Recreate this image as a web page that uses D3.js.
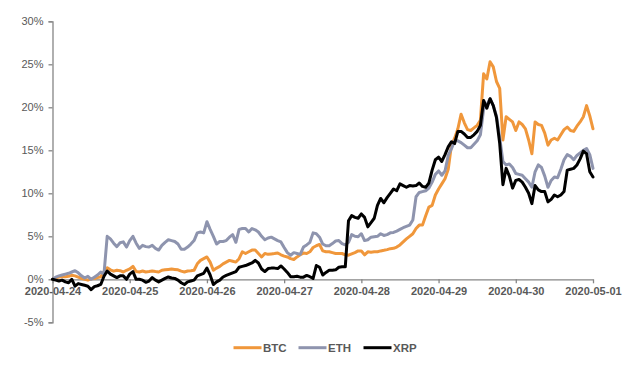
<!DOCTYPE html>
<html>
<head>
<meta charset="utf-8">
<script src="https://cdn.jsdelivr.net/npm/d3@7"></script>
<style>
  body { margin: 0; background: #fff; }
  svg { display: block; font-family: "Liberation Sans", Arial, sans-serif; }
</style>
</head>
<body>
<div id="chart-area"></div>
<script>
// hourly returns since 2020-04-24 00:00, in percent
const startDate = new Date(2020, 3, 24);
const tickDates = ["2020-04-24", "2020-04-25", "2020-04-26", "2020-04-27",
  "2020-04-28", "2020-04-29", "2020-04-30", "2020-05-01"];
const yTicks = [-5, 0, 5, 10, 15, 20, 25, 30];
const seriesNames = ["BTC", "ETH", "XRP"];

const btc = [0, 0.15, 0.27, 0.3, 0.3, 0.35, 0.46, 0.4, 0.25, 0.1, 0, -0.1, 0.05, 0.1, 0.2, 0.3,
  0.9, 1.35, 1.1, 0.95, 1.05, 1, 0.85, 1.05, 1.2, 1.5, 0.9, 0.85, 0.97, 0.85, 0.9, 0.97,
  0.9, 0.85, 1.05, 1.1, 1.15, 1.2, 1.15, 1.1, 0.95, 0.85, 0.97, 1, 1.05, 1.8, 2.2, 2.4,
  2.6, 2, 1.05, 1.3, 1.5, 1.8, 2, 2.2, 2.1, 2, 2.4, 3.2, 3, 3.2, 3.4, 3.4, 3, 2.6,
  3, 2.9, 2.95, 3, 3.06, 2.85, 2.7, 2.6, 2.4, 2.3, 2.6, 2.85, 3.05, 3, 3.2, 3.7,
  3.9, 4.05, 3.3, 3.2, 3.2, 3.1, 3, 3, 3, 2.85, 2.8, 2.95, 3.1, 3.3, 3.3, 2.85,
  3.2, 3.15, 3.2, 3.2, 3.3, 3.37, 3.45, 3.56, 3.6, 3.75, 4, 4.35, 4.7, 5, 5.3, 5.9,
  6.3, 6.3, 7.4, 8.4, 8.6, 9.8, 10.5, 11.1, 11.7, 12.8, 15.6, 16.4, 17.5, 19.2, 18.2, 17.4,
  17.3, 17.6, 17.9, 18.5, 23.9, 23.3, 25.3, 24.7, 23, 22.2, 16.2, 18.9, 18.6, 18.3, 17.3, 18.3,
  18, 17.5, 16.2, 14.6, 18.3, 18, 17.9, 17, 15.6, 16.2, 16.4, 16.2, 16.8, 17.4, 17.7, 17.3,
  17.2, 17.8, 18.3, 18.9, 20.2, 19, 17.5];

const eth = [0, 0.25, 0.4, 0.5, 0.6, 0.7, 0.85, 1, 0.75, 0.4, 0.15, 0.35, 0, 0.25, 0.5, 0.85,
  0.6, 5, 4.7, 4.2, 3.8, 4.25, 4.35, 3.75, 4.5, 5, 4.2, 3.6, 3.95, 3.8, 3.75, 3.95,
  3.6, 3.4, 3.95, 4.3, 4.6, 4.5, 4.4, 4.1, 3.5, 3.5, 3.75, 4.1, 4.5, 5.4, 5.5, 5.4,
  6.7, 5.8, 5, 4.1, 4.4, 4.4, 4.5, 4.9, 5.2, 4.3, 5.8, 5.9, 5.9, 5.5, 5.9, 5.75, 5.5, 5,
  4.6, 4.8, 4.9, 4.7, 4.5, 4.35, 3.7, 3.1, 2.8, 3.1, 3, 2.9, 3.75, 4, 4.3, 5.4,
  5.3, 4.9, 4.1, 3.9, 3.9, 4.15, 4.45, 4.5, 4.15, 4, 4.3, 5.2, 5, 4.95, 5.3, 4.5,
  4.6, 4.9, 4.95, 5, 5.3, 5.1, 5.2, 5.4, 5.45, 5.6, 5.8, 6, 6.15, 6.3, 6.9, 9.6,
  10.1, 10.2, 10.3, 10.6, 11.3, 12.2, 12.6, 12.1, 12.6, 14.4, 15.2, 16.1, 16.1, 15.9, 15.6, 15.3,
  15.3, 15.7, 16.1, 16.8, 19.8, 20.3, 21, 20.2, 19, 16.5, 13.7, 13.3, 13.4, 13, 12.3, 12.2,
  12.1, 11.7, 11.3, 10.7, 12.5, 13.3, 13, 12, 10.7, 11.5, 11.9, 11.8, 12.8, 13.9, 14.5, 14.3,
  13.9, 14.4, 14.7, 15, 15.2, 14.5, 12.9];

const xrp = [0, -0.1, -0.2, -0.1, -0.3, -0.4, 0, -0.8, -0.5, -0.6, -0.7, -0.8, -1.2, -0.85, -0.75, -0.6,
  0.35, 0.97, 0.6, 0.4, 0.2, 0.4, 0.4, 0, 0.6, 0.9, 0, 0, -0.1, -0.35, -0.2, 0.2,
  -0.1, -0.3, -0.1, 0.1, 0.27, 0.15, 0.1, -0.1, -0.4, -0.6, -0.3, -0.2, -0.1, 0.4, 0.55, 0.7,
  1.3, 0.5, -0.6, -0.3, -0.1, 0.27, 0.45, 0.6, 0.75, 0.9, 1.4, 1.5, 1.6, 1.75, 1.9, 2.2, 1.9, 1.2,
  0.9, 1.25, 1.3, 1.3, 1.25, 1.55, 1.2, 0.8, 0.3, 0.3, 0.35, 0.25, 0.25, 0.45, 0.3, 0.1,
  1.6, 1.4, 0.5, 0.8, 1.05, 1.05, 1.1, 1.4, 1.45, 1.45, 6.8, 7.4, 7.2, 7.1, 7.6, 7.2,
  6.1, 6.6, 7.1, 8.6, 9.4, 8.9, 9.5, 10, 10.5, 10.3, 11.1, 10.9, 10.7, 10.9, 10.85, 10.9,
  11.2, 10.8, 10.7, 11.2, 12.7, 13.9, 14.2, 13.7, 14.5, 15.4, 16, 15.8, 17.2, 17.2, 16.9, 16.5,
  16.5, 16.8, 17.2, 17.9, 20.8, 19.9, 21, 20.2, 18.8, 15.8, 11, 12.9, 12, 10.6, 11.5, 11.6,
  11.3, 10.7, 10, 8.8, 10.9, 10.4, 10.2, 10.2, 9, 9.3, 9.8, 9.6, 9.8, 10.2, 12.7, 12.8,
  12.9, 13.3, 14, 14.9, 14.6, 12.5, 11.9];

const colors = {BTC: "#f0973b", ETH: "#8e94ae", XRP: "#000000"};
const series = {BTC: btc, ETH: eth, XRP: xrp};

const W = 634, H = 374;
const svg = d3.select("#chart-area")
  .append("svg")
  .attr("width", W)
  .attr("height", H);

const parseDay = d3.timeParse("%Y-%m-%d");

// x scale
const x = d3.scaleTime()
  .domain([parseDay(tickDates[0]), parseDay(tickDates[tickDates.length - 1])])
  .range([52.5, 593]);

// y scale
const y = d3.scaleLinear()
  .domain([-5, 30])
  .range([322.3, 21.3]);

const textColor = "#595959";
const axisColor = "#868686";

// y axis
const yAxis = d3.axisLeft(y)
  .tickValues(yTicks)
  .tickSize(4)
  .tickPadding(5)
  .tickFormat(d => `${d}%`);
const gy = svg.append("g")
  .attr("transform", `translate(${x.range()[0]},0)`)
  .call(yAxis);
gy.select(".domain").attr("stroke", axisColor).attr("stroke-width", 1.3);
gy.selectAll(".tick line").attr("stroke", axisColor).attr("stroke-width", 1.3);
gy.selectAll(".tick text")
  .attr("fill", textColor)
  .attr("font-size", "11px");

// x axis at 0%
const xAxis = d3.axisBottom(x)
  .tickValues(tickDates.map(parseDay))
  .tickSize(4)
  .tickSizeOuter(0)
  .tickPadding(4)
  .tickFormat(d3.timeFormat("%Y-%m-%d"));
const gx = svg.append("g")
  .attr("transform", `translate(0,${y(0)})`)
  .call(xAxis);
gx.select(".domain").attr("stroke", axisColor).attr("stroke-width", 1.3);
gx.selectAll(".tick line").attr("stroke", axisColor).attr("stroke-width", 1.3);
gx.selectAll(".tick text")
  .attr("fill", textColor)
  .attr("font-size", "11px")
  .attr("font-weight", "bold");

// lines
const line = d3.line()
  .x((d, i) => x(d3.timeHour.offset(startDate, i)))
  .y(d => y(d));

seriesNames.forEach(name => {
  svg.append("path")
    .datum(series[name])
    .attr("fill", "none")
    .attr("stroke", colors[name])
    .attr("stroke-width", 3)
    .attr("stroke-linejoin", "round")
    .attr("stroke-linecap", "round")
    .attr("d", line);
});

// legend
const legendX = [233.5, 298.5, 363.5];
const legend = svg.append("g").attr("transform", "translate(0,347.7)");
seriesNames.forEach((name, i) => {
  legend.append("line")
    .attr("x1", legendX[i])
    .attr("x2", legendX[i] + 28)
    .attr("stroke", colors[name])
    .attr("stroke-width", 3);
  legend.append("text")
    .attr("x", legendX[i] + 29.5)
    .attr("dy", "0.36em")
    .attr("fill", textColor)
    .attr("font-size", "11.5px")
    .attr("font-weight", "bold")
    .text(name);
});
</script>
</body>
</html>
